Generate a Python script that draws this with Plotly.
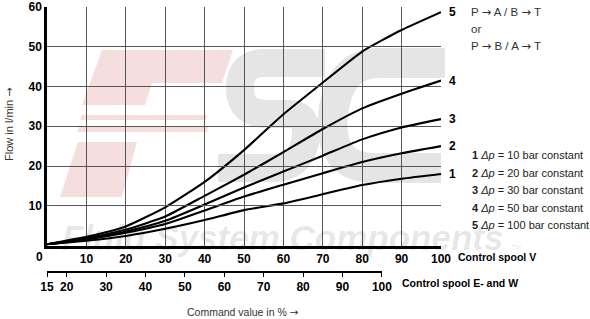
import plotly.graph_objects as go

# ---------------- data ----------------
command_v = [0, 10, 20, 30, 40, 50, 60, 70, 80, 90, 100]
flow_1 = [0.3, 1.2, 2.4, 4.2, 6.4, 8.9, 10.6, 12.9, 15.2, 16.8, 18.0]
flow_2 = [0.3, 1.5, 3.2, 5.4, 8.8, 12.3, 15.3, 18.2, 21.0, 23.2, 25.0]
flow_3 = [0.3, 1.6, 3.5, 6.2, 10.3, 14.6, 18.6, 22.6, 26.7, 29.7, 31.8]
flow_4 = [0.3, 1.8, 4.0, 7.3, 12.5, 17.8, 23.5, 29.3, 34.5, 38.2, 41.5]
flow_5 = [0.3, 2.2, 4.8, 9.6, 16.0, 24.0, 33.0, 41.0, 48.8, 54.2, 58.7]
curve_names = ["1", "2", "3", "4", "5"]
dp_values = [10, 20, 30, 50, 100]
x_ticks_v = [10, 20, 30, 40, 50, 60, 70, 80, 90, 100]
x_ticks_ew = [15, 20, 30, 40, 50, 60, 70, 80, 90, 100]
y_ticks = [10, 20, 30, 40, 50, 60]

series = [flow_1, flow_2, flow_3, flow_4, flow_5]

# ---------------- layout geometry ----------------
W, H = 590, 319
L, R, T, B = 47, 149, 7, 40
PW, PH = W - L - R, H - T - B


def px(x):
    return (x - L) / PW


def py(y):
    return (H - B - y) / PH


def path(points):
    s = ""
    for p in points:
        if isinstance(p, str):
            s += " " + p
        else:
            s += " %.4f,%.4f" % (px(p[0]), py(p[1]))
    return s.strip()


FONT = "Liberation Sans, Arial, sans-serif"
ARROW = '<span style="font-family:DejaVu Sans">→</span>'

fig = go.Figure()
for vals in series:
    fig.add_trace(go.Scatter(x=command_v, y=vals, mode="lines",
                             line=dict(color="black", width=2.1, shape="spline", smoothing=0.5),
                             hoverinfo="skip", showlegend=False, cliponaxis=False))
# dummy trace for second x axis
fig.add_trace(go.Scatter(x=[15, 100], y=[None, None], xaxis="x2", yaxis="y",
                         mode="lines", showlegend=False, hoverinfo="skip"))

shapes = []
pink = "#f4dede"
grey = "#e5e5e5"
# watermark pink "F"
shapes.append(dict(type="path", xref="paper", yref="paper", layer="below", line=dict(width=0), fillcolor=pink,
                   path="M " + path([(102, 50), "L", (233, 50), "L", (222, 83), "L", (152, 83), "L", (145, 105), "L", (82, 105), "Z"])))
shapes.append(dict(type="path", xref="paper", yref="paper", layer="below", line=dict(width=0), fillcolor=pink,
                   path="M " + path([(82, 115), "L", (207, 115), "L", (206, 120), "L", (80, 120), "Z"])))
shapes.append(dict(type="path", xref="paper", yref="paper", layer="below", line=dict(width=0), fillcolor=pink,
                   path="M " + path([(79, 127), "L", (208, 127), "L", (207, 132), "L", (77, 132), "Z"])))
shapes.append(dict(type="path", xref="paper", yref="paper", layer="below", line=dict(width=0), fillcolor=pink,
                   path="M " + path([(78, 142), "L", (137, 142), "L", (122, 197), "L", (60, 197), "Z"])))
# watermark grey "S"
shapes.append(dict(type="path", xref="paper", yref="paper", layer="below", line=dict(width=28, color=grey),
                   path="M " + path([(325, 63), "L", (265, 63), "Q", (240, 63), (240, 88), "Q", (240, 114), (268, 114),
                                     "L", (288, 114), "Q", (310, 114), (305, 142), "Q", (300, 168), (272, 168), "L", (218, 168)])))
# watermark grey "C"
shapes.append(dict(type="path", xref="paper", yref="paper", layer="below", line=dict(width=30, color=grey),
                   path="M " + path([(445, 63), "L", (380, 63), "Q", (338, 63), (333, 115), "Q", (328, 168), (375, 168), "L", (441, 168)])))
# leader lines from curve ends to labels
for vals in series:
    shapes.append(dict(type="line", xref="x", yref="y", x0=100, x1=101.3, y0=vals[-1], y1=vals[-1] + 0.4,
                       line=dict(color="black", width=1.6)))

annotations = []


def ann(x, y, text, size, color="black", xanchor="center", **kw):
    d = dict(x=px(x), y=py(y), xref="paper", yref="paper", showarrow=False,
             xanchor=xanchor, yanchor="middle", text=text,
             font=dict(family=FONT, size=size, color=color))
    d.update(kw)
    annotations.append(d)


# watermark text
ann(282, 237, "<b><i>Fluid System Components</i></b>", 35, "rgba(0,0,0,0.1)")
ann(516, 247, "TM", 7, "rgba(0,0,0,0.12)")
# curve labels
for name, vals in zip(curve_names, series):
    annotations.append(dict(x=100, y=vals[-1], xref="x", yref="y", showarrow=False, xanchor="left",
                            yanchor="middle", xshift=6, text="<b>%s</b>" % name,
                            font=dict(family=FONT, size=12, color="black")))
# flow direction text
for txt, yy in [("P %s A / B %s T" % (ARROW, ARROW), 12), ("or", 29), ("P %s B / A %s T" % (ARROW, ARROW), 46)]:
    ann(469, yy, txt, 11.5, "#333", xanchor="left")
# legend text
for i, (name, dp) in enumerate(zip(curve_names, dp_values)):
    ann(470, 155 + i * 17.6, "<b>%s</b> <i>Δp</i> = %d bar constant" % (name, dp), 11, "#222", xanchor="left")
# zero label
ann(39.5, 256.5, "<b>0</b>", 12)
# axis names
ann(456, 256.5, "<b>Control spool V</b>", 10.5, xanchor="left")
ann(400, 283, "<b>Control spool E- and W</b>", 10.5, xanchor="left")
ann(243, 311.5, "Command value in %% %s" % ARROW, 10.5, "#333")
ann(9, 125, "Flow in l/min %s" % ARROW, 11, "#333", textangle=-90)

fig.update_layout(
    width=W, height=H,
    margin=dict(l=L, r=R, t=T, b=B, autoexpand=False),
    paper_bgcolor="white", plot_bgcolor="rgba(0,0,0,0)",
    showlegend=False,
    shapes=shapes, annotations=annotations,
    xaxis=dict(range=[0, 100], domain=[0, 1], anchor="y", tickvals=x_ticks_v, automargin=False,
               ticktext=["<b>%d</b>" % v for v in x_ticks_v],
               showgrid=True, gridcolor="#555", gridwidth=1, zeroline=False,
               showline=True, linecolor="black", linewidth=2.5, ticks="",
               tickfont=dict(family=FONT, size=12, color="black")),
    yaxis=dict(range=[0, 60], domain=[py(245.5), 1], anchor="x", tickvals=y_ticks, automargin=False,
               ticktext=["<b>%d</b>" % v for v in y_ticks],
               showgrid=True, gridcolor="#555", gridwidth=1, zeroline=False,
               showline=True, linecolor="black", linewidth=2.5, ticks="",
               tickfont=dict(family=FONT, size=12, color="black")),
    xaxis2=dict(range=[15, 100], domain=[0, 0.85], anchor="free", position=py(271.5), automargin=False,
                tickvals=x_ticks_ew, ticktext=["<b>%d</b>" % v for v in x_ticks_ew],
                showgrid=False, zeroline=False, showline=True, linecolor="black", linewidth=2,
                ticks="outside", ticklen=4, tickwidth=1.2, tickcolor="black",
                tickfont=dict(family=FONT, size=12, color="black")),
)

fig.write_html("out.html")
